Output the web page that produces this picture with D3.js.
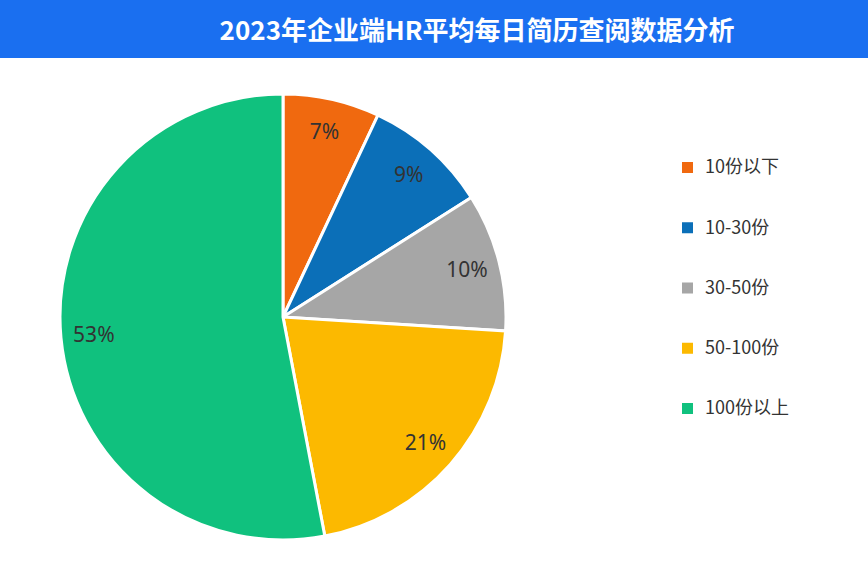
<!DOCTYPE html>
<html><head><meta charset="utf-8">
<script src="https://cdn.jsdelivr.net/npm/d3@7"></script>
<style>body{margin:0;background:#fff}svg{display:block}</style>
</head><body>
<svg id="c" width="868" height="575"></svg>
<script>
const title = "2023年企业端HR平均每日简历查阅数据分析";
const categories = ["10份以下","10-30份","30-50份","50-100份","100份以上"];
const values = [7, 9, 10, 21, 53];
const colors = ["#f0690f","#0b6fb8","#a6a6a6","#fcb900","#10c17e"];

const svg = d3.select("#c");
svg.append("rect").attr("x",0).attr("y",0).attr("width",868).attr("height",58).attr("fill","#1a6ff0");
svg.append("text").attr("x",477).attr("y",40).attr("text-anchor","middle")
  .attr("fill","#fff").attr("font-size",26).attr("font-weight","bold")
  .attr("font-family","'Noto Sans CJK SC',sans-serif").text(title);

const cx=283, cy=317, R=223;
const pie = d3.pie().sort(null).value(d=>d);
const arcs = pie(values);
const arc = d3.arc().innerRadius(0).outerRadius(R);
const lab = d3.arc().innerRadius(190).outerRadius(190);
const g = svg.append("g").attr("transform",`translate(${cx},${cy})`);
g.selectAll("path").data(arcs).join("path").attr("d",arc)
  .attr("fill",(d,i)=>colors[i]).attr("stroke","#fff").attr("stroke-width",3);
g.selectAll("text").data(arcs).join("text")
  .attr("transform",d=>{const c=lab.centroid(d);return `translate(${c[0]},${c[1]})`;})
  .attr("text-anchor","middle").attr("dy","0.35em")
  .attr("font-size",21).attr("fill","#333").attr("font-family","'Noto Sans',sans-serif")
  .text(d=>d.data+"%");

const y = d3.scalePoint().domain(categories).range([167,408]);
const lg = svg.append("g");
categories.forEach((c,i)=>{
  lg.append("rect").attr("x",682).attr("y",y(c)-5).attr("width",11).attr("height",11).attr("fill",colors[i]);
  lg.append("text").attr("x",705).attr("y",y(c)).attr("dy","0.35em").attr("font-size",18)
    .attr("fill","#333").attr("font-family","'Noto Sans CJK SC',sans-serif").text(c);
});
</script>
</body></html>
